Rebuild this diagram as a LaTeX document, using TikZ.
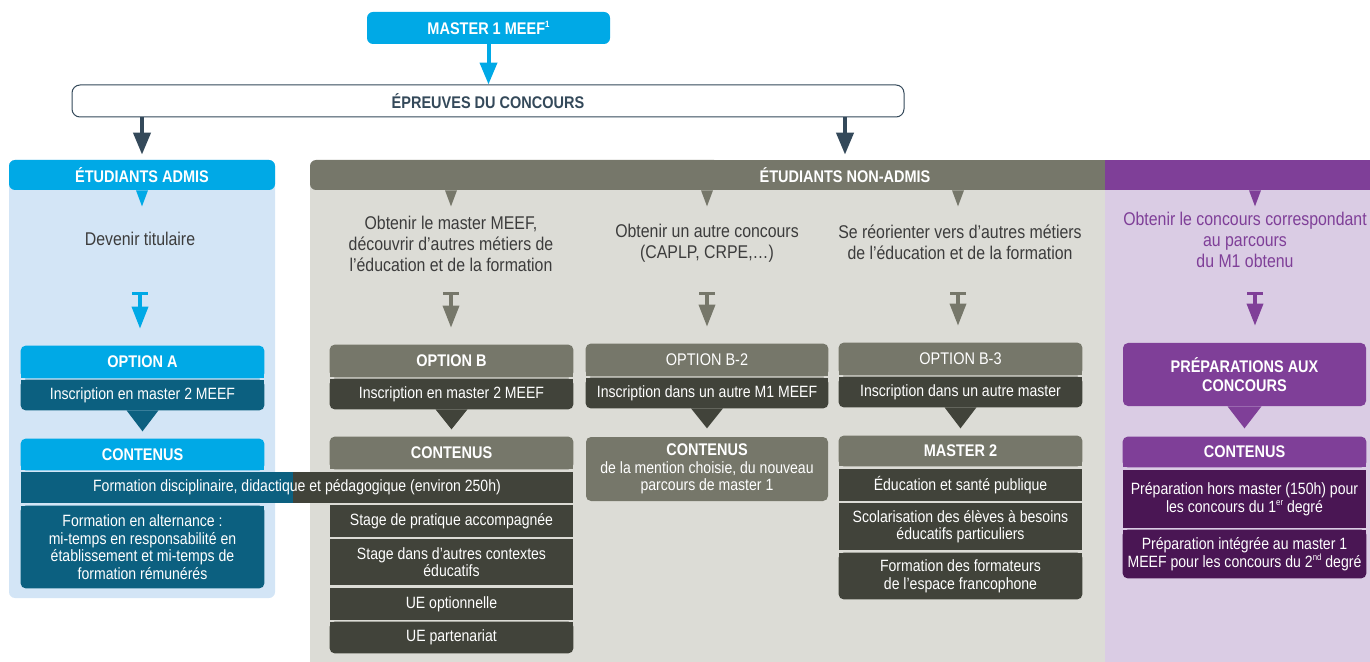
\documentclass[tikz,border=0pt]{standalone}
\usepackage{fontspec}
\setmainfont{Liberation Sans}[FakeStretch=0.86]
\usetikzlibrary{arrows.meta,calc}
\pgfdeclarelayer{bg}
\pgfsetlayers{bg,main}
\definecolor{cyanM}{RGB}{0,169,230}
\definecolor{tealD}{RGB}{12,96,128}
\definecolor{blueP}{RGB}{211,229,246}
\definecolor{grayH}{RGB}{118,119,106}
\definecolor{grayP}{RGB}{220,220,214}
\definecolor{grayD}{RGB}{65,67,58}
\definecolor{purH}{RGB}{127,63,152}
\definecolor{purP}{RGB}{218,204,228}
\definecolor{purD}{RGB}{74,22,84}
\definecolor{slate}{RGB}{52,73,90}
\definecolor{txt}{RGB}{60,60,60}

\newcommand\rowfont{\fontsize{9.3}{10}\selectfont}
\newcommand\hdfont{\bfseries\fontsize{9.6}{11.2}\selectfont}
\newcommand\hdregfont{\fontsize{9.6}{11.2}\selectfont}
\newcommand\descfont{\fontsize{10.5}{11.8}\selectfont}
\newcommand\supx[1]{\raisebox{0.8ex}{\fontsize{5.2}{5.2}\selectfont #1}}

\newcommand\boxtop[2]{\begin{pgfonlayer}{bg}
  \fill[#2,rounded corners=0.1cm] (#1.south west) rectangle (#1.north east);
  \fill[#2] (#1.south west) rectangle (#1.east);
  \end{pgfonlayer}}
\newcommand\boxbot[2]{\begin{pgfonlayer}{bg}
  \fill[#2,rounded corners=0.1cm] (#1.south west) rectangle (#1.north east);
  \fill[#2] (#1.west) rectangle (#1.north east);
  \end{pgfonlayer}}
\newcommand\downtip[4]{\fill[#4] ($(#1)+(-#2,0)$) -- ($(#1)+(#2,0)$) -- ($(#1)+(0,#3)$) -- cycle;}

\begin{document}
\begin{tikzpicture}[x=0.02cm,y=-0.02cm,
  every node/.style={inner sep=0pt,align=center,text=white,font=\rowfont},
  wh/.style 2 args={minimum width={#1*0.02cm},minimum height={#2*0.02cm}},
  col/.style={wh={243}{#1}},
  hd/.style={font=\hdfont},
  desc/.style={font=\descfont,text=txt},
  bigarr/.style={line width=0.08cm,-{Triangle[width=0.34cm,length=0.44cm]}},
  tarr/.style={line width=0.07cm,shorten >=0.34cm,{Bar[width=0.32cm,line width=0.07cm]}-{Triangle[width=0.32cm,length=0.44cm]}}]
\useasboundingbox (0,0) rectangle (1370,662);
\begin{pgfonlayer}{bg}
\fill[blueP,rounded corners=0.12cm] (9,160) rectangle (275,598);
\fill[grayP] (310,175) rectangle (1105,662);
\fill[purP] (1105,175) rectangle (1370,662);
\fill[grayH,rounded corners=0.12cm] (310,160) rectangle (720,190);
\fill[grayH] (700,160) rectangle (1105,190);
\fill[purH] (1105,160) rectangle (1370,190);
\end{pgfonlayer}

\node[wh={243}{32},fill=cyanM,rounded corners=0.12cm,hd] (m1) at (488.5,28) {MASTER 1 MEEF\supx{1}};
\node[wh={832}{32},draw=slate,line width=0.02cm,fill=white,rounded corners=0.16cm,hd,text=slate] (epr) at (488,101) {ÉPREUVES DU CONCOURS};
\draw[bigarr,cyanM] (m1.south) -- (m1.south |- epr.north);

\node[wh={266}{30},fill=cyanM,rounded corners=0.12cm,hd] (admH) at (142,175) {ÉTUDIANTS ADMIS};
\node[wh={795}{30}] (nadmH) at (707.5,175) {};
\node[hd] (nadmT) at (845,175) {ÉTUDIANTS NON-ADMIS};
\node[wh={265}{30}] (purH) at (1237.5,175) {};
\draw[bigarr,slate,shorten >=0.1cm] (epr.south -| admH.north) -- (admH.north);
\draw[bigarr,slate,shorten >=0.1cm] (epr.south -| nadmT) -- (nadmT |- nadmH.north);

\node[desc] (dA) at (140,239) {Devenir titulaire};
\node[desc] (dB) at (451,244) {Obtenir le master MEEF,\\découvrir d’autres métiers de\\l’éducation et de la formation};
\node[desc] (dB2) at (707,243) {Obtenir un autre concours\\(CAPLP, CRPE,…)};
\node[desc] (dB3) at (960,242) {Se réorienter vers d’autres métiers\\de l’éducation et de la formation};
\node[desc,text=purH] (dP) at (1245,240) {Obtenir le concours correspondant\\au parcours\\du M1 obtenu};

\coordinate (tA) at (140,292);
\coordinate (tB) at (451,292);
\coordinate (tB2) at (707,292);
\coordinate (tB3) at (958,292);
\coordinate (tP) at (1255,292);
\downtip{admH.south}{6}{16}{cyanM}
\downtip{tB |- nadmH.south}{6}{16}{grayH}
\downtip{tB2 |- nadmH.south}{6}{16}{grayH}
\downtip{tB3 |- nadmH.south}{6}{16}{grayH}
\downtip{tP |- purH.south}{6}{16}{purH}

% etudiants admis
\node[col=32,hd] (optA) at (142.5,362) {OPTION A};
\boxtop{optA}{cyanM}
\node[col=30] (insA) at (142.5,395) {Inscription en master 2 MEEF};
\boxbot{insA}{tealD}
\downtip{insA.south}{16}{21}{tealD}
\node[col=31,hd] (conA) at (142.5,454.5) {CONTENUS};
\boxtop{conA}{cyanM}
\node[wh={552}{31}] (fdp) at (297,487.5) {Formation disciplinaire, didactique et pédagogique (environ 250h)};
\begin{pgfonlayer}{bg}
\fill[tealD] (fdp.south west) rectangle (293,472);
\fill[grayD] (293,472) rectangle (fdp.south east);
\end{pgfonlayer}
\node[col=82] (altA) at (142.5,547) {Formation en alternance :\\mi-temps en responsabilité en\\établissement et mi-temps de\\formation rémunérés};
\boxbot{altA}{tealD}
\draw[tarr,cyanM] (tA) -- (tA |- optA.north);

% option B
\node[col=32,hd] (optB) at (451.5,361) {OPTION B};
\boxtop{optB}{grayH}
\node[col=30] (insB) at (451.5,394) {Inscription en master 2 MEEF};
\boxbot{insB}{grayD}
\downtip{insB.south}{16}{20}{grayD}
\node[col=32,hd] (conB) at (451.5,453) {CONTENUS};
\boxtop{conB}{grayH}
\node[col=32,fill=grayD] (stgB) at (451.5,521) {Stage de pratique accompagnée};
\node[col=46,fill=grayD] (ctxB) at (451.5,562) {Stage dans d’autres contextes\\éducatifs};
\node[col=32,fill=grayD] (ueoB) at (451.5,604) {UE optionnelle};
\node[col=31] (uepB) at (451.5,637.5) {UE partenariat};
\boxbot{uepB}{grayD}
\draw[tarr,grayH] (tB) -- (tB |- optB.north);

% option B-2
\node[wh={242}{32},font=\hdregfont] (optB2) at (707,360) {OPTION B-2};
\boxtop{optB2}{grayH}
\node[wh={242}{30}] (insB2) at (707,393) {Inscription dans un autre M1 MEEF};
\boxbot{insB2}{grayD}
\downtip{insB2.south}{16}{20}{grayD}
\node[wh={242}{64},fill=grayH,rounded corners=0.1cm] (conB2) at (707,469) {{\hdfont CONTENUS}\\de la mention choisie, du nouveau\\parcours de master 1};
\draw[tarr,grayH] (tB2) -- (tB2 |- optB2.north);

% option B-3
\node[col=32,font=\hdregfont] (optB3) at (960.5,359) {OPTION B-3};
\boxtop{optB3}{grayH}
\node[col=30] (insB3) at (960.5,392) {Inscription dans un autre master};
\boxbot{insB3}{grayD}
\downtip{insB3.south}{16}{21}{grayD}
\node[col=30,hd] (m2) at (960.5,451) {MASTER 2};
\boxtop{m2}{grayH}
\node[col=32,fill=grayD] (edu) at (960.5,485) {Éducation et santé publique};
\node[col=47,fill=grayD] (sco) at (960.5,526.5) {Scolarisation des élèves à besoins\\éducatifs particuliers};
\node[col=46] (fmt) at (960.5,576) {Formation des formateurs\\de l’espace francophone};
\boxbot{fmt}{grayD}
\draw[tarr,grayH] (tB3) -- (tB3 |- optB3.north);

% preparations
\node[col=63,fill=purH,rounded corners=0.1cm,hd] (prep) at (1244.5,374.5) {PRÉPARATIONS AUX\\CONCOURS};
\downtip{prep.south}{17}{22}{purH}
\node[col=30,hd] (conP) at (1244.5,452) {CONTENUS};
\boxtop{conP}{purH}
\node[col=58,fill=purD] (hors) at (1244.5,499) {Préparation hors master (150h) pour\\les concours du 1\supx{er} degré};
\node[col=48] (integ) at (1244.5,554) {Préparation intégrée au master 1\\MEEF pour les concours du 2\supx{nd} degré};
\boxbot{integ}{purD}
\draw[tarr,purH] (tP) -- (tP |- prep.north);
\end{tikzpicture}
\end{document}
